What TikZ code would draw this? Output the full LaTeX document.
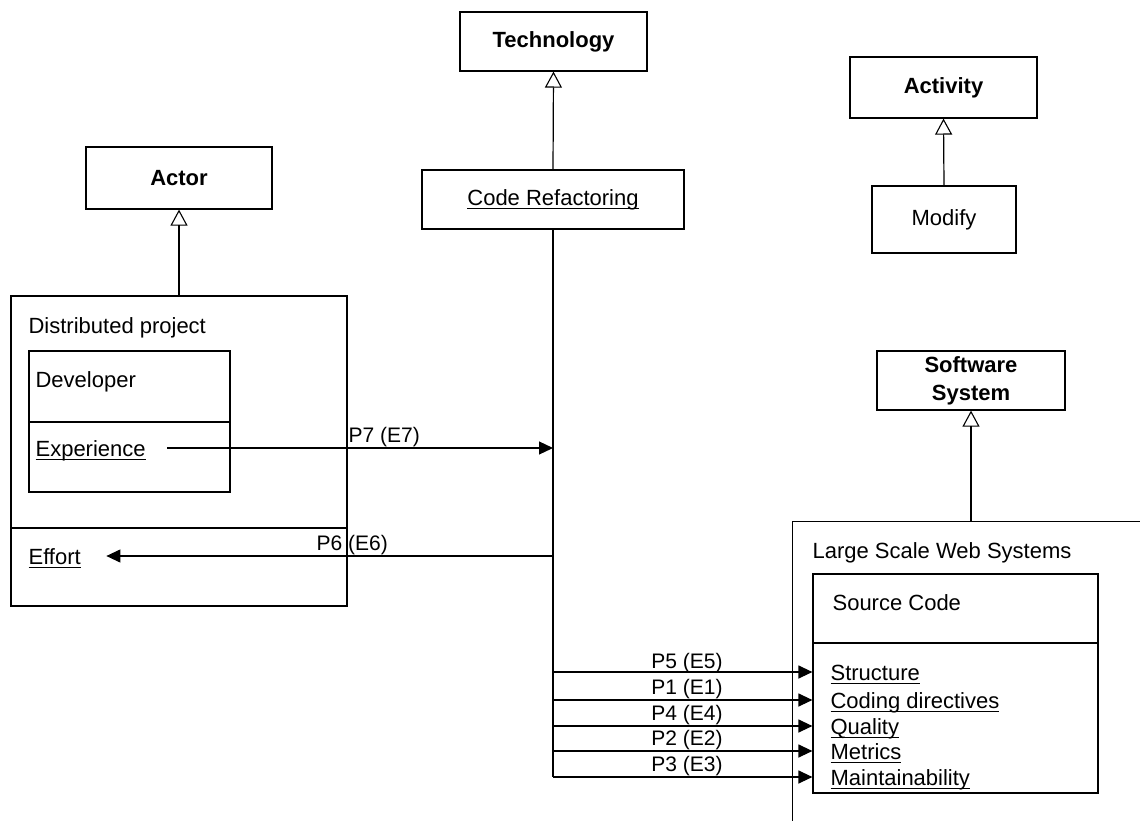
\documentclass[tikz,border=0pt]{standalone}
\usepackage{fontspec}
\setmainfont{Liberation Sans}
\usetikzlibrary{arrows.meta}
\newsavebox\ulsave
\newcommand\ulbox[1]{\sbox\ulsave{#1}\rlap{\rule[-4pt]{\wd\ulsave}{1.1pt}}\usebox\ulsave}
\tikzset{
  box/.style={draw, inner sep=0pt, line width=1.2pt, fill=white},
  txt/.style={inner sep=0pt, text height=16pt, text depth=0pt},
  lbl/.style={inner sep=0pt, text height=15pt, text depth=0pt, font=\fontsize{21}{25}\selectfont},
  gen/.style={-{Triangle[open,length=16pt,width=17pt,line width=1.1pt]}},
  arr/.style={-{Triangle[length=14pt,width=13pt]}},
}
\begin{document}
\begin{tikzpicture}[x=1pt, y=-1pt, font=\fontsize{22}{28}\selectfont, line width=1.2pt]
\useasboundingbox (0,0) rectangle (1140,821);
\fill[white] (0,0) rectangle (1140,821);
\clip (0,0) rectangle (1140,821);

% boxes
\node[box, minimum width=187pt, minimum height=59pt] (tech) at (553.5,41.5) {\textbf{Technology}};
\node[box, minimum width=262pt, minimum height=59pt] (cr) at (553,199.5) {\ulbox{Code Refactoring}};
\node[box, minimum width=186pt, minimum height=62pt] (actor) at (179,178) {\textbf{Actor}};
\node[box, minimum width=336pt, minimum height=310pt] (dp) at (179,451) {};
\node[box, minimum width=201pt, minimum height=141pt] (dev) at (129.5,421.5) {};
\node[box, minimum width=187pt, minimum height=61pt] (act) at (943.5,87.5) {\textbf{Activity}};
\node[box, minimum width=144pt, minimum height=67pt] (mod) at (944,219.5) {Modify};
\node[box, minimum width=188pt, minimum height=59pt, align=center] (ss) at (971,380.5) {\textbf{Software}\\\textbf{System}};
\node[box, minimum width=400pt, minimum height=340pt, anchor=north west] (lsws) at (792,521) {};
\node[box, minimum width=285pt, minimum height=219pt] (sc) at (955.5,683.5) {};

% compartment dividers
\coordinate (d1) at (0,528);
\coordinate (d2) at (0,422);
\coordinate (d3) at (0,643);
\draw (dp.west |- d1) -- (dp.east |- d1);
\draw (dev.west |- d2) -- (dev.east |- d2);
\draw (sc.west |- d3) -- (sc.east |- d3);

% texts inside compound boxes
\node[txt, anchor=west] (dptxt) at (28,325) {Distributed project};
\node[txt, anchor=west] (devtxt) at (35,379) {Developer};
\node[txt, anchor=west] (exp) at (35,448) {\ulbox{Experience}};
\node[txt, anchor=west] (eff) at (28,556) {\ulbox{Effort}};
\node[txt, anchor=west] (lswstxt) at (812,550) {Large Scale Web Systems};
\node[txt, anchor=west] (sctxt) at (832,602) {Source Code};
\node[txt, anchor=west] (i5) at (830,672) {\ulbox{Structure}};
\node[txt, anchor=west] (i1) at (830,700) {\ulbox{Coding directives}};
\node[txt, anchor=west] (i4) at (830,726) {\ulbox{Quality}};
\node[txt, anchor=west] (i2) at (830,751) {\ulbox{Metrics}};
\node[txt, anchor=west] (i3) at (830,777) {\ulbox{Maintainability}};

% generalizations
\draw[gen] (cr.north) -- (tech.south);
\draw[gen] (dp.north) -- (actor.south);
\draw[gen] (mod.north) -- (act.south);
\draw[gen] (ss.south |- lsws.north) -- (ss.south);

% trunk from Code Refactoring
\coordinate (j7) at (553,448);
\coordinate (j6) at (553,556);
\coordinate (j5) at (553,672);
\coordinate (j1) at (553,700);
\coordinate (j4) at (553,726);
\coordinate (j2) at (553,751);
\coordinate (j3) at (553,777);
\draw (cr.south) -- (j3);

\coordinate (expR) at ([xshift=21pt]exp.east);
\coordinate (effR) at ([xshift=25pt]eff.east);
\draw[arr] (expR |- j7) -- (j7);
\draw[arr] (j6) -- (effR |- j6);
\draw[arr] (j5) -- (sc.west |- j5);
\draw[arr] (j1) -- (sc.west |- j1);
\draw[arr] (j4) -- (sc.west |- j4);
\draw[arr] (j2) -- (sc.west |- j2);
\draw[arr] (j3) -- (sc.west |- j3);

% connector labels
\node[lbl, anchor=west] (l7) at (348,435) {P7 (E7)};
\node[lbl, anchor=west] (l6) at (316,543) {P6 (E6)};
\node[lbl] (l5) at (687,661) {P5 (E5)};
\node[lbl] (l1) at (687,687) {P1 (E1)};
\node[lbl] (l4) at (687,713) {P4 (E4)};
\node[lbl] (l2) at (687,738) {P2 (E2)};
\node[lbl] (l3) at (687,764) {P3 (E3)};
\end{tikzpicture}
\end{document}
